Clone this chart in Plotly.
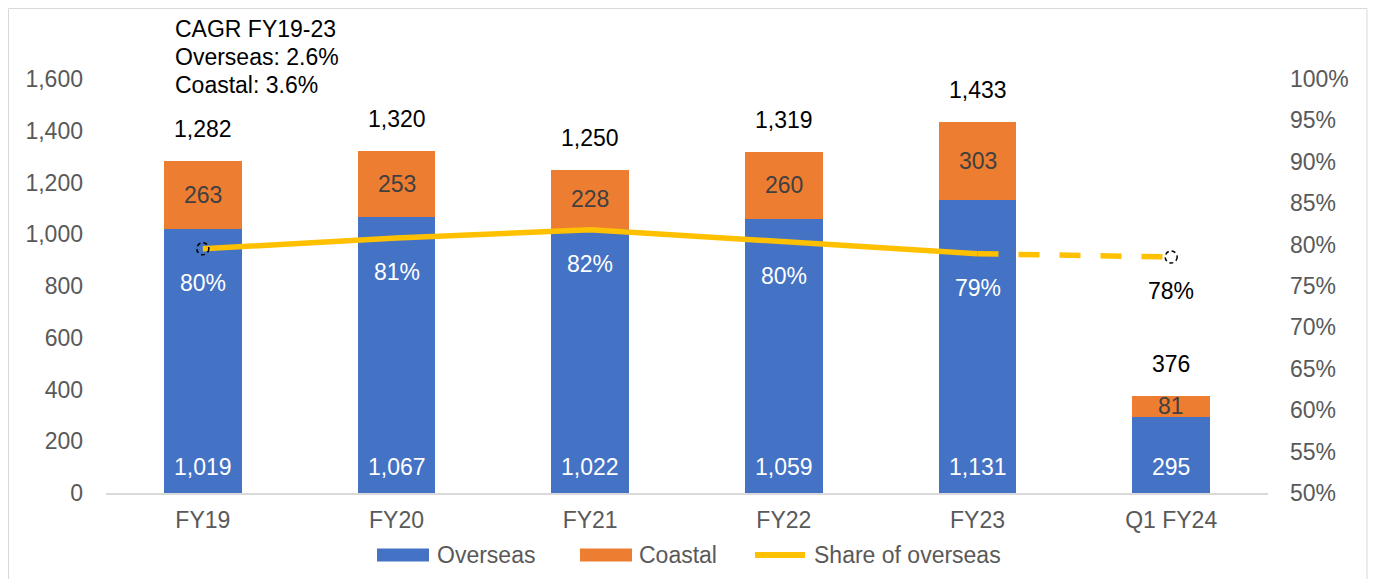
import plotly.graph_objects as go

categories = ["FY19", "FY20", "FY21", "FY22", "FY23", "Q1 FY24"]
overseas = [1019, 1067, 1022, 1059, 1131, 295]
coastal = [263, 253, 228, 260, 303, 81]
totals = [1282, 1320, 1250, 1319, 1433, 376]
share = [79.5, 80.8, 81.8, 80.3, 78.9, 78.5]
share_labels = ["80%", "81%", "82%", "80%", "79%", "78%"]
left_ticks = [0, 200, 400, 600, 800, 1000, 1200, 1400, 1600]
right_ticks = [50, 55, 60, 65, 70, 75, 80, 85, 90, 95, 100]
cagr_lines = ["CAGR FY19-23", "Overseas: 2.6%", "Coastal: 3.6%"]
legend_names = ["Overseas", "Coastal", "Share of overseas"]

BLUE = "#4472C4"
ORANGE = "#ED7D31"
YELLOW = "#FFC000"
GRAY = "#595959"
FONT = "Liberation Sans, Arial, sans-serif"
FS = 23

# page has an 8px body margin; figure sized to fit the window
OFF = 8
W, H = 1381 - 2 * OFF, 587 - 2 * OFF
PX0, PX1, PY0, PY1 = 106, 1268, 79, 493  # plot area in screen px
PW, PH = PX1 - PX0, PY1 - PY0
L, T = PX0 - OFF, PY0 - OFF
R, B = W - L - PW, H - T - PH


def px(sx):
    return (sx - PX0) / PW


def py(sy):
    return (PY1 - sy) / PH


fig = go.Figure()
fig.add_trace(go.Bar(x=categories, y=overseas, name=legend_names[0], marker_color=BLUE,
                     marker_line_width=0, width=0.4))
fig.add_trace(go.Bar(x=categories, y=coastal, name=legend_names[1], marker_color=ORANGE,
                     marker_line_width=0, width=0.4))
fig.add_trace(go.Scatter(x=categories[:5], y=share[:5], name=legend_names[2], mode="lines",
                         line=dict(color=YELLOW, width=5.5), yaxis="y2"))
fig.add_trace(go.Scatter(x=categories[4:], y=share[4:], name=legend_names[2], mode="lines",
                         line=dict(color=YELLOW, width=5.5, dash="21px,20px"), yaxis="y2",
                         hoverinfo="skip"))

ann = []
for i, c in enumerate(categories):
    ann.append(dict(x=c, y=totals[i], yref="y", text=f"{totals[i]:,}", showarrow=False,
                    yshift=32, font=dict(size=FS, color="#000000", family=FONT)))
    ann.append(dict(x=c, y=overseas[i] + coastal[i] / 2, yref="y", text=f"{coastal[i]:,}",
                    showarrow=False, font=dict(size=FS, color="#404040", family=FONT)))
    ann.append(dict(x=c, y=0, yref="y", text=f"{overseas[i]:,}", showarrow=False,
                    yshift=26, font=dict(size=FS, color="#FFFFFF", family=FONT)))
    pc = "#000000" if i == 5 else "#FFFFFF"
    ann.append(dict(x=c, y=share[i], yref="y2", text=share_labels[i], showarrow=False,
                    yshift=-34, font=dict(size=FS, color=pc, family=FONT)))

for j, t in enumerate(cagr_lines):
    ann.append(dict(xref="paper", yref="paper", x=px(173), y=py(29 + 28 * j),
                    xanchor="left", yanchor="middle", text=t, showarrow=False,
                    font=dict(size=FS, color="#000000", family=FONT)))

shapes = []
for i in [0, 5]:
    shapes.append(dict(type="circle", xref="x", yref="y2", xsizemode="pixel", ysizemode="pixel",
                       xanchor=i, yanchor=share[i], x0=-6, x1=6, y0=-6, y1=6,
                       line=dict(color="#000000", width=1.5, dash="4px,3px"),
                       fillcolor="rgba(0,0,0,0)", layer="above"))
# outer chart border
shapes.append(dict(type="rect", xref="paper", yref="paper",
                   x0=px(8.5), x1=px(1367), y0=py(640), y1=py(8.5),
                   line=dict(color="#D9D9D9", width=1), fillcolor="rgba(0,0,0,0)", layer="below"))

# legend (drawn to match the reference swatch shapes)
leg_y = 555
swatches = [(377, 429, BLUE, "rect"), (580, 632, ORANGE, "rect"), (752, 808, YELLOW, "line")]
text_x = [435, 637, 812]
for (x0, x1, col, kind), name, tx in zip(swatches, legend_names, text_x):
    if kind == "rect":
        shapes.append(dict(type="rect", xref="paper", yref="paper", x0=px(x0), x1=px(x1),
                           y0=py(leg_y + 6.5), y1=py(leg_y - 6.5), fillcolor=col,
                           line=dict(width=0)))
    else:
        shapes.append(dict(type="line", xref="paper", yref="paper", x0=px(x0 + 3), x1=px(x1 - 3),
                           y0=py(leg_y), y1=py(leg_y), line=dict(color=col, width=6)))
    ann.append(dict(xref="paper", yref="paper", x=px(tx), y=py(leg_y), xanchor="left",
                    yanchor="middle", text=name, showarrow=False,
                    font=dict(size=FS, color=GRAY, family=FONT)))

fig.update_layout(
    barmode="stack",
    width=W, height=H,
    margin=dict(l=L, r=R, t=T, b=B),
    paper_bgcolor="white", plot_bgcolor="white",
    font=dict(family=FONT, size=FS, color=GRAY),
    showlegend=False,
    xaxis=dict(showgrid=False, showline=True, linecolor="#D9D9D9", linewidth=1.5,
               ticks="", tickfont=dict(size=FS, color=GRAY), range=[-0.5, 5.5],
               ticklabelstandoff=6),
    yaxis=dict(range=[0, 1600], tickvals=left_ticks, ticktext=[f"{v:,}" for v in left_ticks],
               showgrid=False, zeroline=False, showline=False, ticks="",
               tickfont=dict(size=FS, color=GRAY), ticklabelstandoff=22),
    yaxis2=dict(range=[50, 100], tickvals=right_ticks, ticktext=[f"{v}%" for v in right_ticks],
                overlaying="y", side="right", showgrid=False, zeroline=False, showline=False,
                ticks="", tickfont=dict(size=FS, color=GRAY), ticklabelstandoff=21),
    annotations=ann,
    shapes=shapes,
)

fig.write_html("out.html")
